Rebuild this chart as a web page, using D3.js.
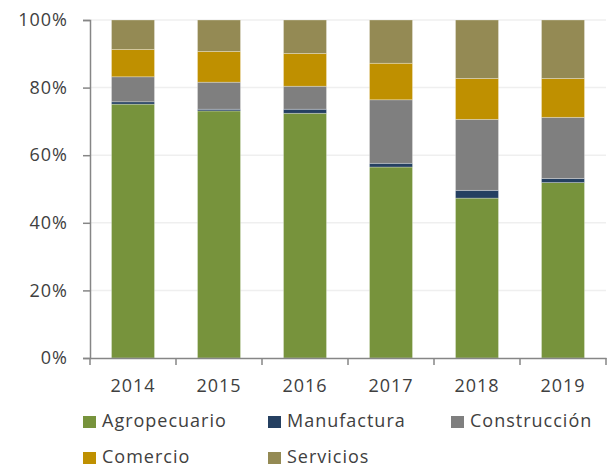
<!DOCTYPE html>
<html>
<head>
<meta charset="utf-8">
<script src="https://cdn.jsdelivr.net/npm/d3@7"></script>
<style>
  body { margin: 0; background: #fff; }
  text { font-family: "Open Sans", "DejaVu Sans", sans-serif; fill: #404040; }
</style>
</head>
<body>
<div id="area"></div>
<script>
let years = ['2014', '2015', '2016', '2017', '2018', '2019']
let sectors = ['Agropecuario', 'Manufactura', 'Construcción', 'Comercio', 'Servicios']
let colors = ['#77933C', '#254061', '#7F7F7F', '#BF9000', '#948A54']

// shares in percent
let agropecuario = [75.1, 73.1, 72.4, 56.5, 47.3, 51.9]
let manufactura  = [0.7, 0.5, 1.2, 1.1, 2.3, 1.2]
let construccion = [7.4, 8.0, 6.8, 18.8, 21.0, 18.1]
let comercio     = [8.1, 9.1, 9.7, 10.8, 12.1, 11.5]
let servicios    = [8.7, 9.3, 9.9, 12.8, 17.3, 17.3]
let yTicks = [0, 20, 40, 60, 80, 100]

let width = 616
let height = 468
let plotLeft = 90, plotRight = 606, plotTop = 20, plotBottom = 358
let fontSize = '18px'
let spacing = '1px'

let rows = years.map(function(y, i) {
  return {
    year: y,
    'Agropecuario': agropecuario[i],
    'Manufactura': manufactura[i],
    'Construcción': construccion[i],
    'Comercio': comercio[i],
    'Servicios': servicios[i]
  }
})

let svg = d3.select('#area').append('svg')
  .attr('width', width)
  .attr('height', height)

let x = d3.scaleBand().domain(years).range([plotLeft, plotRight])
  .paddingInner(0.5).paddingOuter(0.25)
let y = d3.scaleLinear().domain([0, 100]).range([plotBottom, plotTop])

// gridlines
svg.append('g').selectAll('line')
  .data(yTicks.filter(d => d > 0))
  .join('line')
  .attr('x1', plotLeft).attr('x2', plotRight)
  .attr('y1', d => y(d)).attr('y2', d => y(d))
  .attr('stroke', '#EFEFEF').attr('stroke-width', 1.5)

let stack = d3.stack().keys(sectors)(rows)

svg.append('g').selectAll('g')
  .data(stack)
  .join('g')
  .attr('fill', (d, i) => colors[i])
  .selectAll('rect')
  .data(d => d)
  .join('rect')
  .attr('x', d => x(d.data.year))
  .attr('width', x.bandwidth())
  .attr('y', d => y(d[1]))
  .attr('height', d => y(d[0]) - y(d[1]))
  .attr('stroke', 'rgba(255,255,255,0.35)')
  .attr('stroke-width', 0.8)

// y axis
let yAxis = svg.append('g')
  .attr('transform', 'translate(' + plotLeft + ',0)')
  .call(d3.axisLeft(y).tickValues(yTicks).tickFormat(d => d + '%').tickSize(7).tickPadding(15))
yAxis.select('.domain').attr('stroke', '#868686').attr('stroke-width', 1.5)
yAxis.selectAll('.tick line').attr('stroke', '#868686').attr('stroke-width', 1.5)
yAxis.selectAll('.tick text')
  .style('font-size', fontSize).style('letter-spacing', spacing)
  .attr('fill', '#404040')

// x axis
let xAxis = svg.append('g')
  .attr('transform', 'translate(0,' + plotBottom + ')')
  .call(d3.axisBottom(x).tickSize(0).tickPadding(21))
xAxis.select('.domain').attr('stroke', '#868686').attr('stroke-width', 1.5)
xAxis.selectAll('.tick text')
  .style('font-size', fontSize).style('letter-spacing', spacing)
  .attr('fill', '#404040')
// tick marks between categories
svg.append('g').selectAll('line')
  .data(d3.range(years.length + 1))
  .join('line')
  .attr('x1', i => plotLeft + i * x.step()).attr('x2', i => plotLeft + i * x.step())
  .attr('y1', plotBottom).attr('y2', plotBottom + 7)
  .attr('stroke', '#868686').attr('stroke-width', 1.5)

// legend
let legendPos = [[83, 421], [268, 421], [451, 421], [83, 457], [268, 457]]
let legend = svg.append('g').selectAll('g')
  .data(sectors)
  .join('g')
  .attr('transform', (d, i) => 'translate(' + legendPos[i][0] + ',' + legendPos[i][1] + ')')
legend.append('rect')
  .attr('x', 0).attr('y', -5).attr('width', 13).attr('height', 12)
  .attr('fill', (d, i) => colors[i])
legend.append('text')
  .attr('x', 19).attr('y', 0).attr('dy', '0.35em')
  .style('font-size', fontSize).style('letter-spacing', spacing)
  .text(d => d)
</script>
</body>
</html>
